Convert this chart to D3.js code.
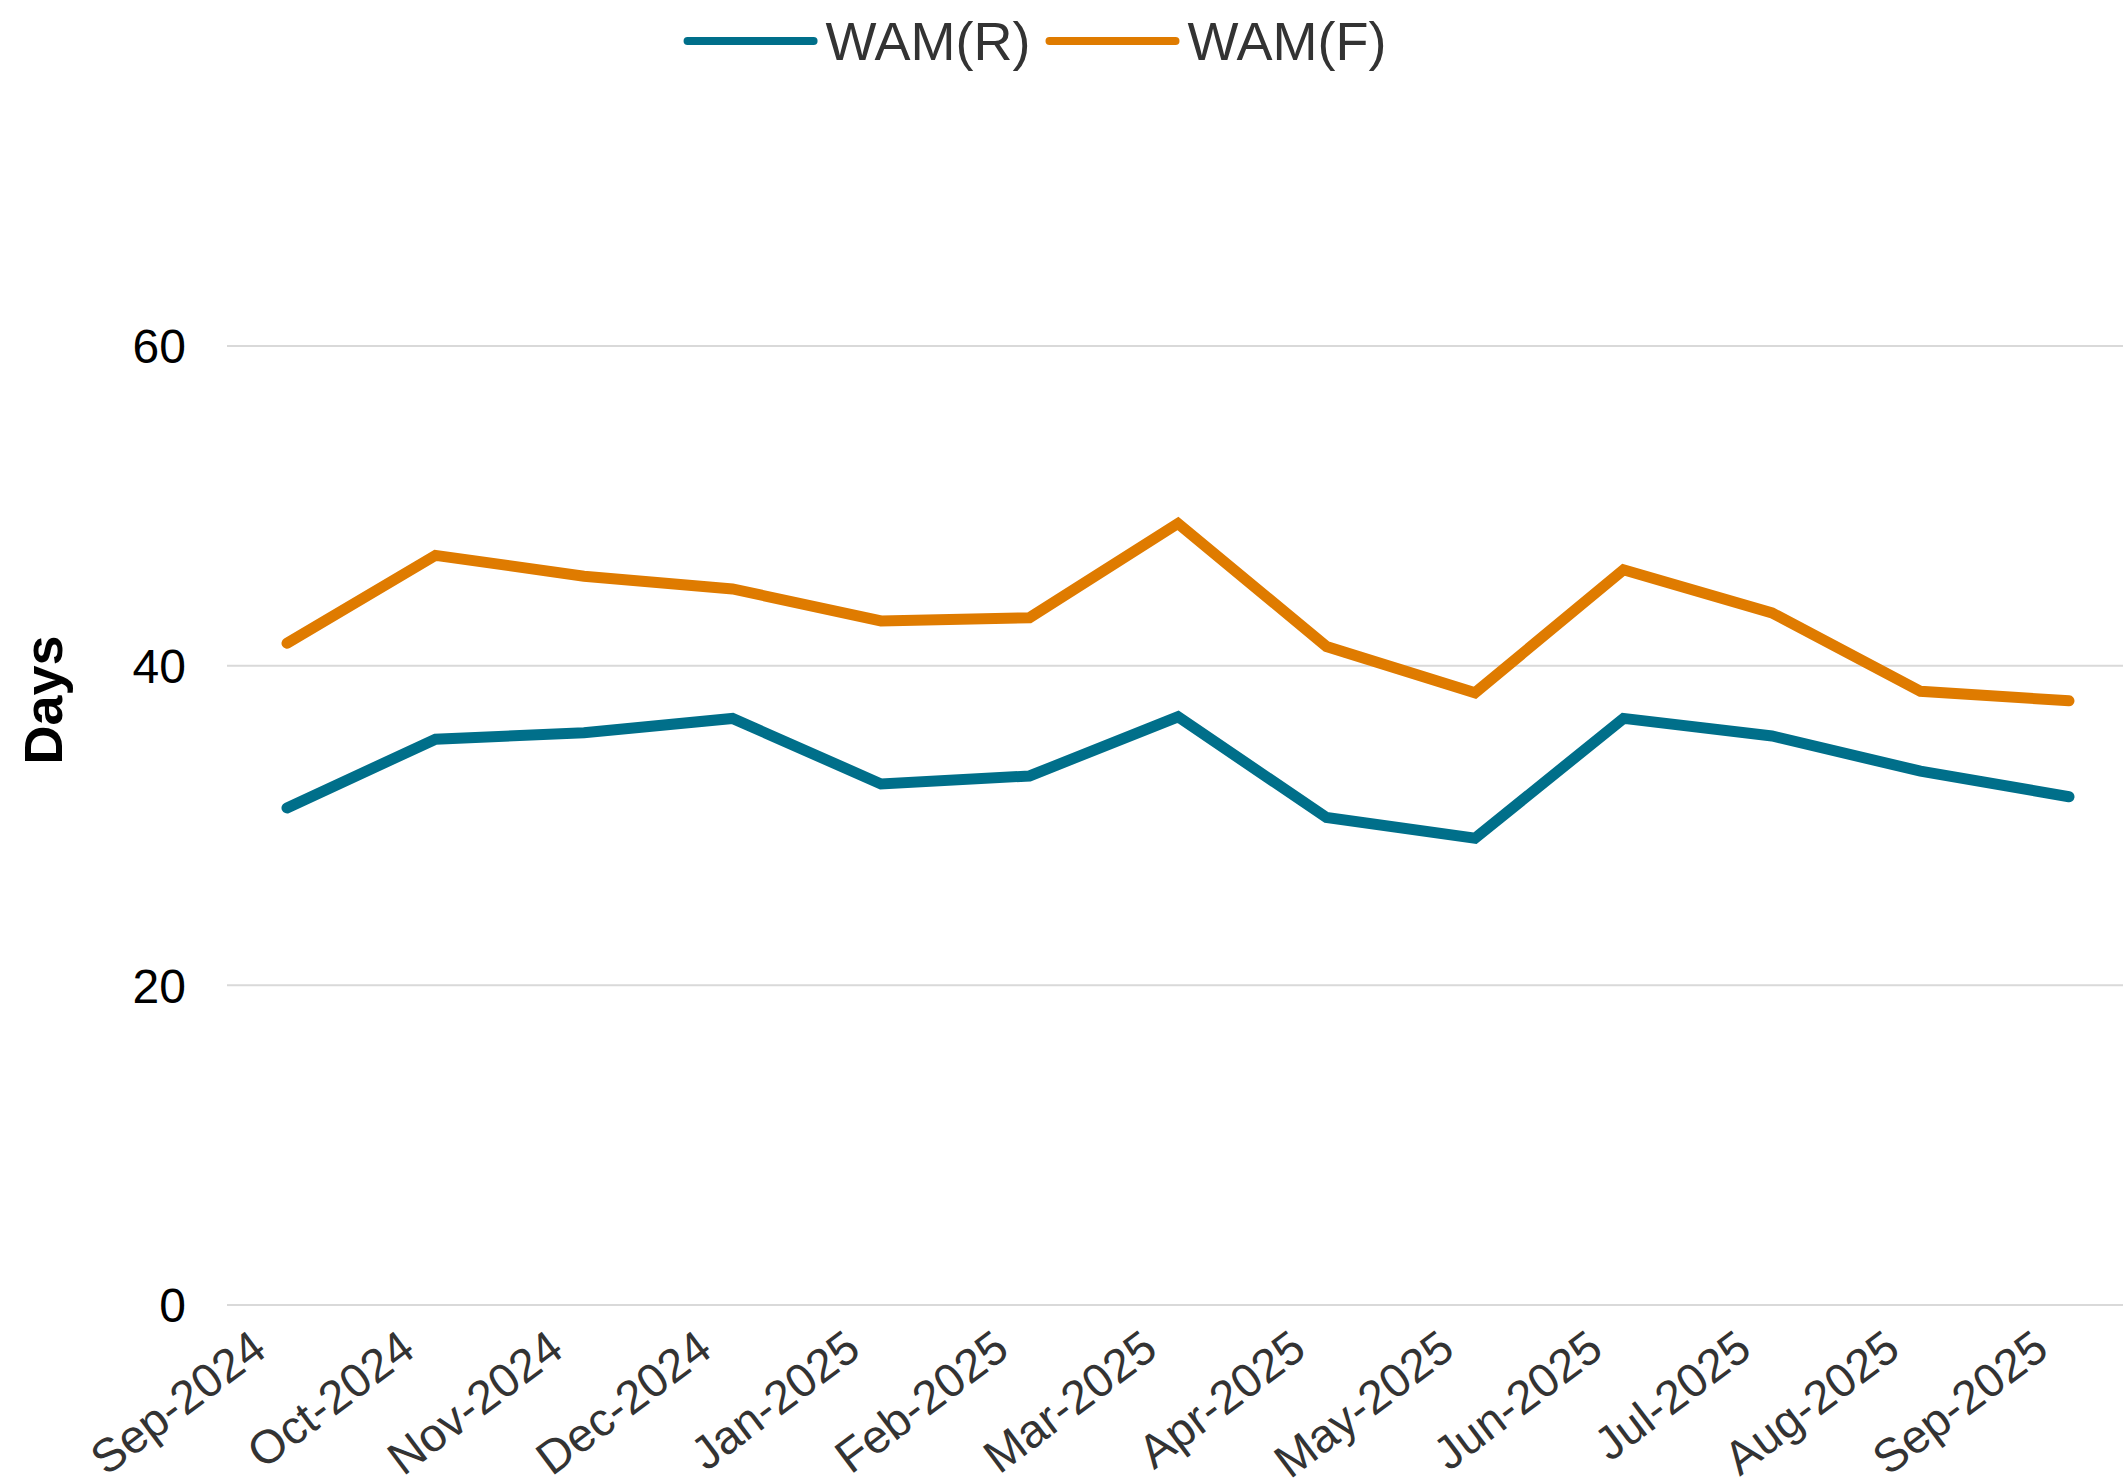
<!DOCTYPE html>
<html>
<head>
<meta charset="utf-8">
<script src="https://cdn.jsdelivr.net/npm/d3@7"></script>
<style>
  body { margin: 0; background: #fff; }
  svg { display: block; font-family: "Liberation Sans", Arial, sans-serif; }
</style>
</head>
<body>
<div id="chart"></div>
<script>
// months on the x axis
var months = ["Sep-2024","Oct-2024","Nov-2024","Dec-2024","Jan-2025","Feb-2025","Mar-2025",
              "Apr-2025","May-2025","Jun-2025","Jul-2025","Aug-2025","Sep-2025"];
// weighted average maturity, days
var wamR = [31.1, 35.4, 35.8, 36.7, 32.6, 33.1, 36.8, 30.5, 29.2, 36.7, 35.6, 33.4, 31.8];
var wamF = [41.4, 46.9, 45.6, 44.8, 42.8, 43.0, 48.9, 41.2, 38.3, 46.0, 43.3, 38.4, 37.8];
var seriesNames = ["WAM(R)", "WAM(F)"];
var yTicks = [0, 20, 40, 60];

var series = [
    {name: seriesNames[0], values: wamR, color: "#006f8a"},
    {name: seriesNames[1], values: wamF, color: "#df7b00"}
];

var W = 2123, H = 1484;
var plotLeft = 227, plotRight = 2123, plotTop = 346, plotBottom = 1305;

var svg = d3.select("#chart").append("svg")
    .attr("width", W)
    .attr("height", H);

var x = d3.scalePoint()
    .domain(months)
    .range([287, 2069]);

var y = d3.scaleLinear()
    .domain([0, 60])
    .range([plotBottom, plotTop]);

// gridlines
svg.append("g").selectAll("line")
    .data(yTicks)
    .enter().append("line")
    .attr("x1", plotLeft)
    .attr("x2", plotRight)
    .attr("y1", function(d){ return y(d); })
    .attr("y2", function(d){ return y(d); })
    .attr("stroke", "#d9d9d9")
    .attr("stroke-width", 2);

// y tick labels
svg.append("g").selectAll("text")
    .data(yTicks)
    .enter().append("text")
    .attr("x", 186)
    .attr("y", function(d){ return y(d); })
    .attr("dy", "0.36em")
    .attr("text-anchor", "end")
    .style("font-size", "48px")
    .style("fill", "#000")
    .text(function(d){ return d; });

// y axis title
svg.append("text")
    .attr("transform", "translate(43,700) rotate(-90)")
    .attr("text-anchor", "middle")
    .attr("dy", "0.35em")
    .style("font-size", "54px")
    .style("font-weight", "bold")
    .style("fill", "#000")
    .text("Days");

// x labels, rotated
svg.append("g").selectAll("text")
    .data(months)
    .enter().append("text")
    .attr("transform", function(d){ return "translate(" + (x(d) - 18) + ",1354) rotate(-37)"; })
    .attr("text-anchor", "end")
    .style("font-size", "47px")
    .style("fill", "#333")
    .text(function(d){ return d; });

// lines
var line = d3.line()
    .x(function(d, i){ return x(months[i]); })
    .y(function(d){ return y(d); });

svg.append("g").selectAll("path")
    .data(series)
    .enter().append("path")
    .attr("d", function(s){ return line(s.values); })
    .attr("fill", "none")
    .attr("stroke", function(s){ return s.color; })
    .attr("stroke-width", 11)
    .attr("stroke-linejoin", "miter")
    .attr("stroke-linecap", "round");

// legend, centered at top
var legend = svg.append("g");
var lineLen = 126, gapText = 12, gapItem = 19;
var cx = 0;
series.forEach(function(s, i){
    var g = legend.append("g").attr("transform", "translate(" + cx + ",0)");
    g.append("line")
        .attr("x1", 0).attr("x2", lineLen)
        .attr("y1", 41).attr("y2", 41)
        .attr("stroke", s.color)
        .attr("stroke-width", 8)
        .attr("stroke-linecap", "round");
    var t = g.append("text")
        .attr("x", lineLen + gapText)
        .attr("y", 41)
        .attr("dy", "0.36em")
        .style("font-size", "54px")
        .style("fill", "#333")
        .text(s.name);
    cx += lineLen + gapText + t.node().getComputedTextLength() + gapItem;
});
var totalW = cx - gapItem;
legend.attr("transform", "translate(" + (1037 - totalW / 2) + ",0)");
</script>
</body>
</html>
